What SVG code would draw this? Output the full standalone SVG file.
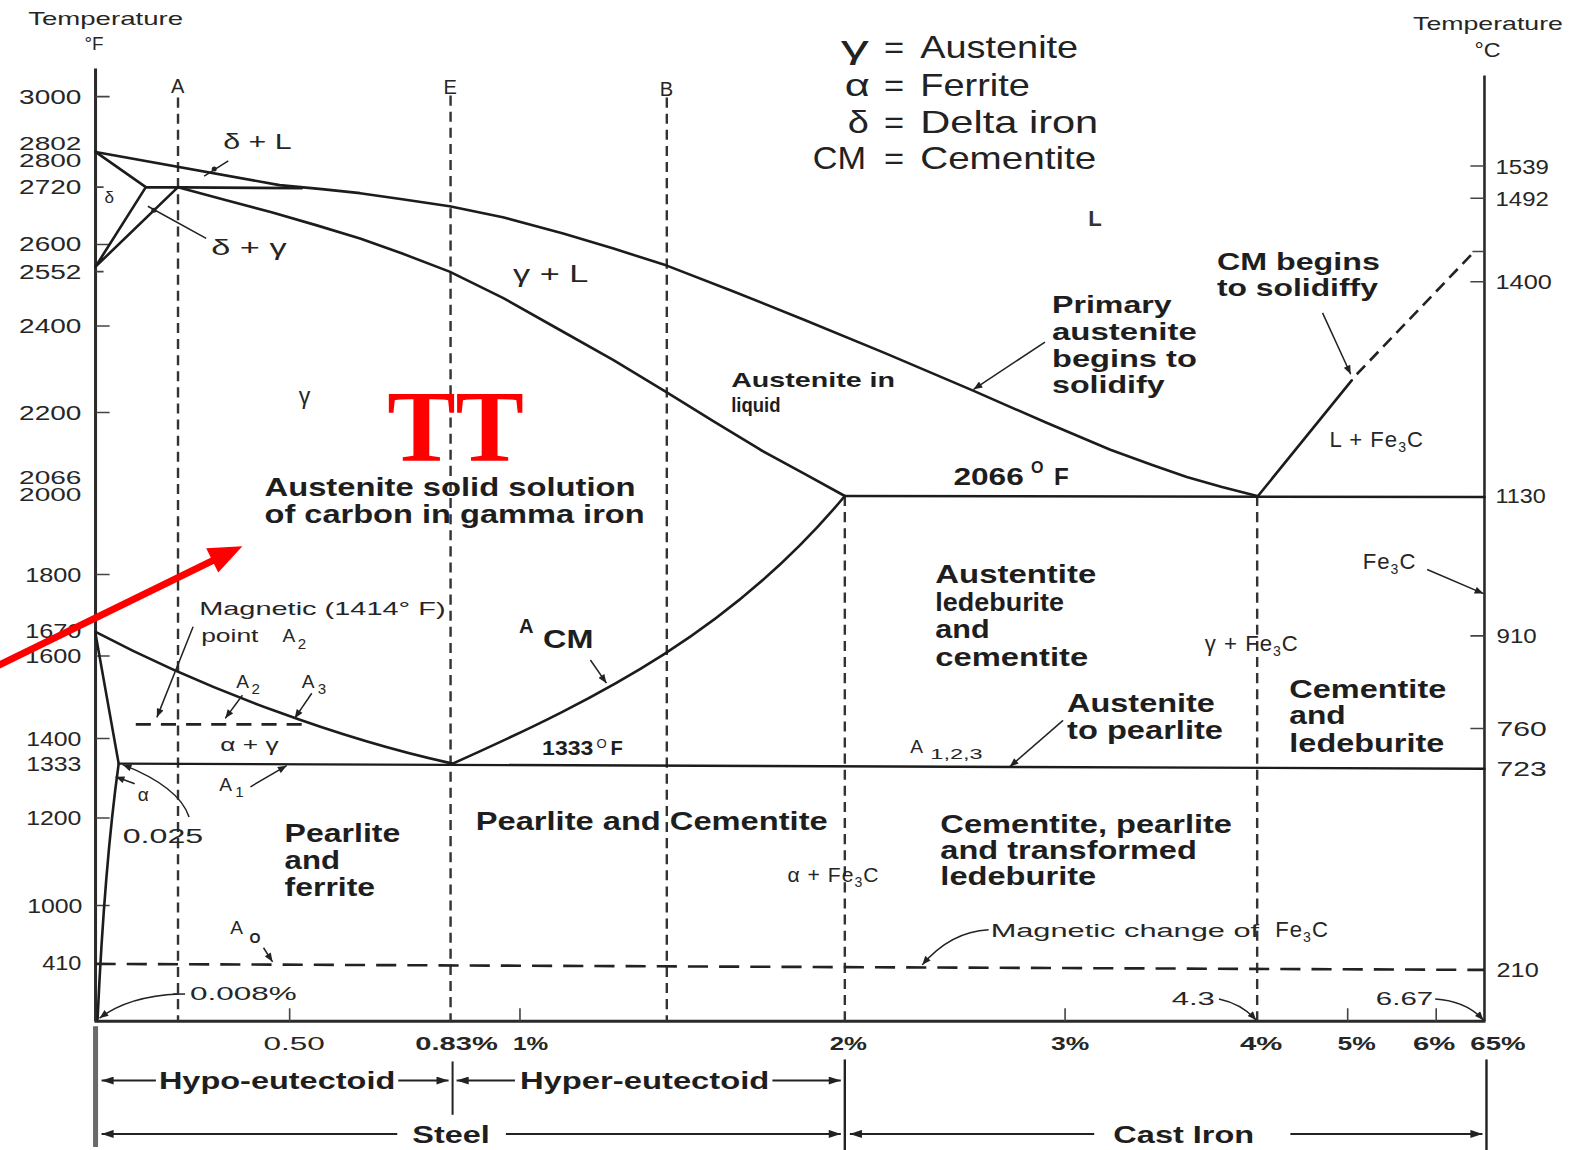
<svg xmlns="http://www.w3.org/2000/svg" width="1577" height="1150" viewBox="0 0 1577 1150">
<defs>
<marker id="ah" viewBox="0 0 10 8" refX="10" refY="4" markerWidth="10" markerHeight="7" markerUnits="userSpaceOnUse" orient="auto-start-reverse"><path d="M0,0 L10,4 L0,8 z" fill="#222"/></marker>
<marker id="ab" viewBox="0 0 12 8" refX="12" refY="4" markerWidth="13" markerHeight="8" markerUnits="userSpaceOnUse" orient="auto-start-reverse"><path d="M0,0 L12,4 L0,8 z" fill="#222"/></marker>
<style>
.ln{fill:none;stroke:#1c1c1c;stroke-width:2.6;stroke-linejoin:round;stroke-linecap:round}
.ax{fill:none;stroke:#2a2a2a;stroke-width:3}
.tk{fill:none;stroke:#444;stroke-width:1.6}
.dv{fill:none;stroke:#333;stroke-width:2.4;stroke-dasharray:10 6}
.dh{fill:none;stroke:#222;stroke-width:2.6;stroke-dasharray:20 11}
.ld{fill:none;stroke:#222;stroke-width:1.5}
.br{fill:none;stroke:#222;stroke-width:2}
text{font-family:"Liberation Sans",Arial,sans-serif;fill:#262626}
.lt{font-size:20px}
.num{font-size:20px;fill:#333}
.bd{font-weight:bold;font-size:25px;fill:#1e1e1e}
.lg{font-size:31px;fill:#222}
.sm{font-size:18px}
</style>
</defs>
<rect width="1577" height="1150" fill="#ffffff"/>
<g transform="scale(1.00574,1.00612)">

<g id="axes">
<line class="ax" x1="95" y1="68" x2="95" y2="1015"/>
<line class="ax" x1="1476" y1="75" x2="1476" y2="1015" style="stroke-width:2.6"/>
<line class="ax" x1="94" y1="1015" x2="1477" y2="1015"/>
<path class="tk" d="M95,96h14 M95,186h8 M95,243h14 M95,270h8 M95,324h14 M95,410h14 M95,571h14 M95,652h14 M95,734h14 M95,813h14 M95,900h14 M95,958h8"/>
<path class="tk" d="M1462,165h14 M1462,197h14 M1464,250h12 M1462,280h14 M1462,632h14 M1462,724h14"/>
<path class="tk" d="M288,1002v13 M517,1002v13 M1059,1002v13 M1340,1002v13 M1428,1002v13"/>
</g>

<g id="axis-labels">
<text class="lt" x="28" y="25" style="font-size:18px" textLength="154" lengthAdjust="spacingAndGlyphs">Temperature</text>
<text class="lt" x="84" y="50" style="font-size:18px" textLength="19" lengthAdjust="spacingAndGlyphs">°F</text>
<text class="lt" x="1405" y="30" style="font-size:18px" textLength="149" lengthAdjust="spacingAndGlyphs">Temperature</text>
<text class="lt" x="1466" y="57" textLength="26" lengthAdjust="spacingAndGlyphs">°C</text>
<g class="num" text-anchor="end">
<text x="81" y="103" textLength="62" lengthAdjust="spacingAndGlyphs">3000</text>
<text x="81" y="149" style="font-size:18px" textLength="62" lengthAdjust="spacingAndGlyphs">2802</text>
<text x="81" y="166" style="font-size:18px" textLength="62" lengthAdjust="spacingAndGlyphs">2800</text>
<text x="81" y="193" textLength="62" lengthAdjust="spacingAndGlyphs">2720</text>
<text x="81" y="249" textLength="62" lengthAdjust="spacingAndGlyphs">2600</text>
<text x="81" y="277" textLength="62" lengthAdjust="spacingAndGlyphs">2552</text>
<text x="81" y="331" textLength="62" lengthAdjust="spacingAndGlyphs">2400</text>
<text x="81" y="417" textLength="62" lengthAdjust="spacingAndGlyphs">2200</text>
<text x="81" y="481" style="font-size:18px" textLength="62" lengthAdjust="spacingAndGlyphs">2066</text>
<text x="81" y="498" style="font-size:18px" textLength="62" lengthAdjust="spacingAndGlyphs">2000</text>
<text x="81" y="578" textLength="56" lengthAdjust="spacingAndGlyphs">1800</text>
<text x="81" y="634" textLength="56" lengthAdjust="spacingAndGlyphs">1670</text>
<text x="81" y="659" textLength="56" lengthAdjust="spacingAndGlyphs">1600</text>
<text x="81" y="741" textLength="55" lengthAdjust="spacingAndGlyphs">1400</text>
<text x="81" y="766" textLength="55" lengthAdjust="spacingAndGlyphs">1333</text>
<text x="81" y="820" textLength="55" lengthAdjust="spacingAndGlyphs">1200</text>
<text x="82" y="907" textLength="55" lengthAdjust="spacingAndGlyphs">1000</text>
<text x="81" y="964" textLength="39" lengthAdjust="spacingAndGlyphs">410</text>
</g>
<g class="num">
<text x="1487" y="173" textLength="53" lengthAdjust="spacingAndGlyphs">1539</text>
<text x="1487" y="205" textLength="53" lengthAdjust="spacingAndGlyphs">1492</text>
<text x="1487" y="287" textLength="56" lengthAdjust="spacingAndGlyphs">1400</text>
<text x="1487" y="500" textLength="50" lengthAdjust="spacingAndGlyphs">1130</text>
<text x="1488" y="639" textLength="40" lengthAdjust="spacingAndGlyphs">910</text>
<text x="1488" y="732" textLength="50" lengthAdjust="spacingAndGlyphs">760</text>
<text x="1488" y="771" textLength="50" lengthAdjust="spacingAndGlyphs">723</text>
<text x="1488" y="971" textLength="42" lengthAdjust="spacingAndGlyphs">210</text>
</g>
<g class="sm" style="fill:#444">
<text x="262" y="1044" textLength="61" lengthAdjust="spacingAndGlyphs">0.50</text>
<text x="413" y="1044" textLength="82" lengthAdjust="spacingAndGlyphs" font-weight="bold">0.83%</text>
<text x="510" y="1044" textLength="35" lengthAdjust="spacingAndGlyphs" font-weight="bold">1%</text>
<text x="825" y="1044" textLength="37" lengthAdjust="spacingAndGlyphs" font-weight="bold">2%</text>
<text x="1045" y="1044" textLength="38" lengthAdjust="spacingAndGlyphs" font-weight="bold">3%</text>
<text x="1233" y="1044" textLength="42" lengthAdjust="spacingAndGlyphs" font-weight="bold">4%</text>
<text x="1330" y="1044" textLength="38" lengthAdjust="spacingAndGlyphs" font-weight="bold">5%</text>
<text x="1405" y="1044" textLength="42" lengthAdjust="spacingAndGlyphs" font-weight="bold">6%</text>
<text x="1462" y="1044" textLength="55" lengthAdjust="spacingAndGlyphs" font-weight="bold">65%</text>
</g>
</g>

<g id="composition-lines">
<line class="dv" x1="177" y1="97" x2="177" y2="1015"/>
<line class="dv" x1="448" y1="95" x2="448" y2="1015"/>
<line class="dv" x1="663" y1="97" x2="663" y2="1015"/>
<line class="dv" x1="840" y1="493" x2="840" y2="1015"/>
<line class="dv" x1="1250" y1="493" x2="1250" y2="1015"/>
<text class="lt" x="170" y="92">A</text>
<text class="lt" x="441" y="93">E</text>
<text class="lt" x="656" y="95">B</text>
</g>

<g id="phase-lines">
<path class="ln" d="M95,151 L278,184 L320,188 L358,192 L400,198 L447,205 L500,216 L560,232 L610,247 L663,264 L730,290 L800,318 L880,351 L967,388 L1040,420 L1104,447 L1145,462 L1180,474 L1215,484 L1250,493"/>
<path class="ln" d="M95,151 L145,186 L95,265 L177,186 M145,186 L300,187"/>
<path class="ln" d="M177,186 L225,199 L270,211 L315,224 L358,237 L400,252 L447,270 L500,296 L555,327 L610,358 L663,390 L710,419 L756,447 L800,471 L840,493"/>
<path class="ln" d="M840,493 L1476,494"/>
<path class="ln" d="M1250,494 L1344,378"/>
<path class="dh" d="M1349,372 L1466,250" style="stroke-dasharray:12 7"/>
<path class="ln" d="M95,628 C205,686 340,735 450,759"/>
<path class="ln" d="M450,759 C600,692 730,625 840,493"/>
<path class="ln" d="M95,630 L118,759 Q104,860 97,1013"/>
<path class="ln" d="M118,759 L1476,764" style="stroke-width:2.4"/>
<path class="dh" d="M95,958 L1476,964"/>
<path class="dh" d="M135,720 L305,720" style="stroke-dasharray:15 10"/>
</g>

<g id="region-labels">
<text class="lg" x="836" y="58" textLength="28" lengthAdjust="spacingAndGlyphs">γ</text>
<text class="lg" x="879" y="58" textLength="20" lengthAdjust="spacingAndGlyphs">=</text>
<text class="lg" x="915" y="58" textLength="157" lengthAdjust="spacingAndGlyphs">Austenite</text>
<text class="lg" x="840" y="95" textLength="25" lengthAdjust="spacingAndGlyphs">α</text>
<text class="lg" x="879" y="95" textLength="20" lengthAdjust="spacingAndGlyphs">=</text>
<text class="lg" x="915" y="95" textLength="109" lengthAdjust="spacingAndGlyphs">Ferrite</text>
<text class="lg" x="843" y="132" textLength="21" lengthAdjust="spacingAndGlyphs">δ</text>
<text class="lg" x="879" y="132" textLength="20" lengthAdjust="spacingAndGlyphs">=</text>
<text class="lg" x="915" y="132" textLength="177" lengthAdjust="spacingAndGlyphs">Delta  iron</text>
<text class="lg" x="808" y="168" textLength="53" lengthAdjust="spacingAndGlyphs">CM</text>
<text class="lg" x="879" y="168" textLength="20" lengthAdjust="spacingAndGlyphs">=</text>
<text class="lg" x="915" y="168" textLength="175" lengthAdjust="spacingAndGlyphs">Cementite</text>

<text x="1082" y="225" style="font-size:22px;font-weight:bold;fill:#333">L</text>
<text class="lt" x="510" y="280" style="font-size:23px" textLength="75" lengthAdjust="spacingAndGlyphs">γ + L</text>
<text class="lt" x="297" y="402" style="font-size:23px">γ</text>
<text class="lt" x="222" y="148" style="font-size:22px" textLength="68" lengthAdjust="spacingAndGlyphs">δ + L</text>
<text class="lt" x="210" y="253" style="font-size:22px" textLength="75" lengthAdjust="spacingAndGlyphs">δ + γ</text>
<text class="lt" x="104" y="202" style="font-size:17px">δ</text>

<text x="385" y="458" style="font-family:'Liberation Serif','Times New Roman',serif;font-weight:bold;font-size:100px;fill:#ff0000" textLength="136" lengthAdjust="spacingAndGlyphs">TT</text>
<text class="bd" x="263" y="493" textLength="369" lengthAdjust="spacingAndGlyphs">Austenite solid solution</text>
<text class="bd" x="263" y="520" textLength="378" lengthAdjust="spacingAndGlyphs">of carbon in gamma iron</text>

<text class="bd" x="727" y="385" style="font-size:21px" textLength="163" lengthAdjust="spacingAndGlyphs">Austenite in</text>
<text class="bd" x="727" y="410" style="font-size:21px" textLength="49" lengthAdjust="spacingAndGlyphs">liquid</text>

<text class="bd" x="1046" y="311" style="font-size:24px" textLength="119" lengthAdjust="spacingAndGlyphs">Primary</text>
<text class="bd" x="1046" y="338" style="font-size:24px" textLength="144" lengthAdjust="spacingAndGlyphs">austenite</text>
<text class="bd" x="1046" y="365" style="font-size:24px" textLength="144" lengthAdjust="spacingAndGlyphs">begins to</text>
<text class="bd" x="1046" y="391" style="font-size:24px" textLength="112" lengthAdjust="spacingAndGlyphs">solidify</text>

<text class="bd" x="1210" y="268" style="font-size:24px" textLength="162" lengthAdjust="spacingAndGlyphs">CM begins</text>
<text class="bd" x="1210" y="294" style="font-size:24px" textLength="160" lengthAdjust="spacingAndGlyphs">to solidiffy</text>

<text class="lt" x="1322" y="444" style="font-size:22px;letter-spacing:1px">L + Fe<tspan dy="5" style="font-size:14px">3</tspan><tspan dy="-5">C</tspan></text>

<text class="bd" x="948" y="482" style="font-size:24px" textLength="70" lengthAdjust="spacingAndGlyphs">2066</text>
<text class="bd" x="1025" y="470" style="font-size:16px">O</text>
<text class="bd" x="1048" y="482" style="font-size:24px">F</text>

<text class="bd" x="930" y="579" textLength="160" lengthAdjust="spacingAndGlyphs">Austentite</text>
<text class="bd" x="930" y="607" textLength="128" lengthAdjust="spacingAndGlyphs">ledeburite</text>
<text class="bd" x="930" y="634" textLength="54" lengthAdjust="spacingAndGlyphs">and</text>
<text class="bd" x="930" y="662" textLength="152" lengthAdjust="spacingAndGlyphs">cementite</text>

<text class="lt" x="1355" y="566" style="font-size:22px;letter-spacing:1px">Fe<tspan dy="5" style="font-size:14px">3</tspan><tspan dy="-5">C</tspan></text>
<text class="lt" x="1198" y="647" style="font-size:22px;letter-spacing:1px">γ  +  Fe<tspan dy="5" style="font-size:14px">3</tspan><tspan dy="-5">C</tspan></text>

<text class="bd" x="1282" y="694" textLength="156" lengthAdjust="spacingAndGlyphs">Cementite</text>
<text class="bd" x="1282" y="720" textLength="56" lengthAdjust="spacingAndGlyphs">and</text>
<text class="bd" x="1282" y="747" textLength="154" lengthAdjust="spacingAndGlyphs">ledeburite</text>

<text class="bd" x="1061" y="708" textLength="147" lengthAdjust="spacingAndGlyphs">Austenite</text>
<text class="bd" x="1061" y="735" textLength="155" lengthAdjust="spacingAndGlyphs">to pearlite</text>

<text class="lt" x="905" y="748" style="font-size:19px">A</text>
<text class="lt" x="925" y="754" style="font-size:15px" textLength="52" lengthAdjust="spacingAndGlyphs">1,2,3</text>

<text class="bd" x="539" y="750" style="font-size:20px" textLength="51" lengthAdjust="spacingAndGlyphs">1333</text>
<text class="bd" x="593" y="743" style="font-size:13px;font-weight:normal">O</text>
<text class="bd" x="607" y="750" style="font-size:20px">F</text>

<text class="bd" x="516" y="629" style="font-size:20px">A</text>
<text class="bd" x="540" y="644" style="font-size:26px" textLength="50" lengthAdjust="spacingAndGlyphs">CM</text>

<text class="lt" x="198" y="611" style="font-size:19px" textLength="245" lengthAdjust="spacingAndGlyphs">Magnetic  (1414° F)</text>
<text class="lt" x="200" y="638" style="font-size:19px" textLength="57" lengthAdjust="spacingAndGlyphs">point</text>
<text class="lt" x="281" y="638" style="font-size:19px">A</text>
<text class="lt" x="296" y="645" style="font-size:15px">2</text>

<text class="lt" x="235" y="684" style="font-size:19px">A</text>
<text class="lt" x="250" y="690" style="font-size:15px">2</text>
<text class="lt" x="300" y="684" style="font-size:19px">A</text>
<text class="lt" x="316" y="690" style="font-size:15px">3</text>
<text class="lt" x="219" y="746" style="font-size:19px" textLength="58" lengthAdjust="spacingAndGlyphs">α + γ</text>
<text class="lt" x="218" y="786" style="font-size:19px">A</text>
<text class="lt" x="234" y="792" style="font-size:15px">1</text>
<text class="lt" x="137" y="796" style="font-size:19px">α</text>
<text class="lt" x="122" y="838" style="font-size:20px" textLength="80" lengthAdjust="spacingAndGlyphs">0.025</text>

<text class="bd" x="283" y="837" textLength="115" lengthAdjust="spacingAndGlyphs">Pearlite</text>
<text class="bd" x="283" y="864" textLength="55" lengthAdjust="spacingAndGlyphs">and</text>
<text class="bd" x="283" y="891" textLength="90" lengthAdjust="spacingAndGlyphs">ferrite</text>
<text class="bd" x="473" y="825" textLength="350" lengthAdjust="spacingAndGlyphs">Pearlite and Cementite</text>
<text class="lt" x="783" y="877" style="font-size:21px;letter-spacing:1px">α  +  Fe<tspan dy="5" style="font-size:14px">3</tspan><tspan dy="-5">C</tspan></text>
<text class="bd" x="935" y="828" textLength="290" lengthAdjust="spacingAndGlyphs">Cementite, pearlite</text>
<text class="bd" x="935" y="854" textLength="255" lengthAdjust="spacingAndGlyphs">and transformed</text>
<text class="bd" x="935" y="880" textLength="155" lengthAdjust="spacingAndGlyphs">ledeburite</text>

<text class="lt" x="985" y="931" style="font-size:19px" textLength="267" lengthAdjust="spacingAndGlyphs">Magnetic  change  of</text>
<text class="lt" x="1268" y="931" style="font-size:22px;letter-spacing:1px">Fe<tspan dy="5" style="font-size:14px">3</tspan><tspan dy="-5">C</tspan></text>

<text class="lt" x="229" y="928" style="font-size:19px">A</text>
<text class="lt" x="248" y="937" style="font-size:14px;font-weight:bold">O</text>
<text class="lt" x="189" y="994" style="font-size:18px" textLength="106" lengthAdjust="spacingAndGlyphs">0.008%</text>
<text class="lt" x="1165" y="999" style="font-size:18px" textLength="43" lengthAdjust="spacingAndGlyphs">4.3</text>
<text class="lt" x="1368" y="999" style="font-size:18px" textLength="57" lengthAdjust="spacingAndGlyphs">6.67</text>
</g>

<g id="leaders">
<path class="ld" d="M203,175 L227,160"/>
<circle cx="213" cy="168" r="2.5" fill="#222"/>
<path class="ld" d="M147,205 L205,237"/>
<circle cx="153" cy="209" r="2.5" fill="#222"/>
<path class="ld" d="M192,623 L156,713" marker-end="url(#ah)"/>
<path class="ld" d="M241,691 L224,714" marker-end="url(#ah)"/>
<path class="ld" d="M310,689 L293,714" marker-end="url(#ah)"/>
<path class="ld" d="M249,782 L285,761" marker-end="url(#ah)"/>
<path class="ld" d="M134,779 L115,772" marker-end="url(#ah)"/>
<path class="ld" d="M188,812 Q178,782 122,760" marker-end="url(#ah)"/>
<path class="ld" d="M178,988 Q128,990 99,1012" marker-end="url(#ah)"/>
<path class="ld" d="M172,988 h12"/>
<path class="ld" d="M262,942 L271,956" marker-end="url(#ah)"/>
<path class="ld" d="M587,656 L603,679" marker-end="url(#ah)"/>
<path class="ld" d="M1057,716 L1004,762" marker-end="url(#ah)"/>
<path class="ld" d="M1039,340 L968,387" marker-end="url(#ah)"/>
<path class="ld" d="M1315,311 L1343,372" marker-end="url(#ah)"/>
<path class="ld" d="M1419,566 L1475,590" marker-end="url(#ah)"/>
<path class="ld" d="M983,924 Q945,926 917,959" marker-end="url(#ah)"/>
<path class="ld" d="M1212,993 Q1235,998 1249,1014" marker-end="url(#ah)"/>
<path class="ld" d="M1427,993 Q1458,995 1475,1014" marker-end="url(#ah)"/>
</g>

<g id="ranges">
<line x1="95" y1="1020" x2="95" y2="1140" stroke="#6a6a6a" stroke-width="5"/>
<path class="br" d="M155,1074 L101,1074" marker-end="url(#ab)"/>
<text class="bd" x="158" y="1082" style="font-size:24px" textLength="235" lengthAdjust="spacingAndGlyphs">Hypo-eutectoid</text>
<path class="br" d="M396,1074 L446,1074" marker-end="url(#ab)"/>
<line class="br" x1="450" y1="1055" x2="450" y2="1108"/>
<path class="br" d="M512,1074 L454,1074" marker-end="url(#ab)"/>
<text class="bd" x="517" y="1082" style="font-size:24px" textLength="248" lengthAdjust="spacingAndGlyphs">Hyper-eutectoid</text>
<path class="br" d="M768,1074 L836,1074" marker-end="url(#ab)"/>
<line class="br" x1="840" y1="1053" x2="840" y2="1143" style="stroke-width:2.4"/>
<path class="br" d="M395,1127 L101,1127" marker-end="url(#ab)"/>
<text class="bd" x="410" y="1136" style="font-size:24px" textLength="77" lengthAdjust="spacingAndGlyphs">Steel</text>
<path class="br" d="M503,1127 L836,1127" marker-end="url(#ab)"/>
<path class="br" d="M1088,1127 L845,1127" marker-end="url(#ab)"/>
<text class="bd" x="1107" y="1136" style="font-size:24px" textLength="140" lengthAdjust="spacingAndGlyphs">Cast Iron</text>
<path class="br" d="M1283,1127 L1474,1127" marker-end="url(#ab)"/>
<line class="br" x1="1478" y1="1053" x2="1478" y2="1143" style="stroke-width:2.4"/>
</g>

<g id="red-arrow">
<line x1="-5" y1="663" x2="214" y2="556" stroke="#ff0000" stroke-width="7"/>
<polygon points="241,543 217,569 205,545" fill="#ff0000"/>
</g>
</g>
</svg>
